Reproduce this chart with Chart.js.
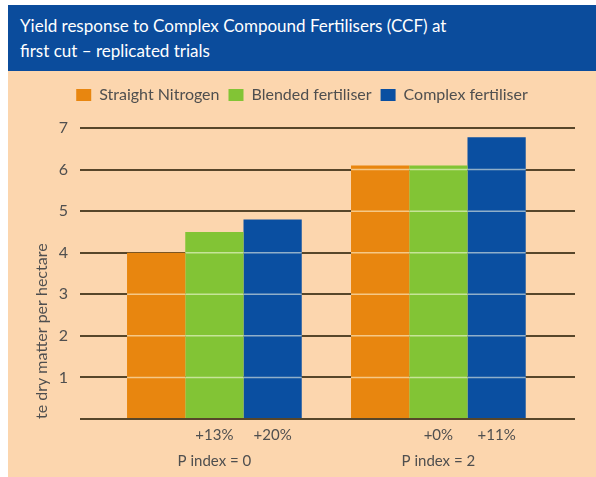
<!DOCTYPE html>
<html>
<head>
<meta charset="utf-8">
<script src="https://cdn.jsdelivr.net/npm/chart.js@4"></script>
<style>
  html, body { margin: 0; padding: 0; background: #fff; }
  #frame { position: absolute; left: 8px; top: 5px; width: 588px; height: 472px; background: #fcd6ae; }
  #title {
    height: 66px; background: #0b4c9c; color: #fff;
    font-family: Lato, sans-serif; font-size: 17px; line-height: 25px;
    padding: 8px 0 0 12px; box-sizing: border-box;
  }
  #wrap { position: relative; width: 588px; height: 406px; }
</style>
</head>
<body>
<div id="frame">
  <div id="title">Yield response to Complex Compound Fertilisers (CCF) at<br>first cut – replicated trials</div>
  <div id="wrap"><canvas id="chart"></canvas></div>
</div>
<script>
const categories = ['P index = 0', 'P index = 2'];
const straightN = [4.0, 6.1];
const blended = [4.5, 6.1];
const complexF = [4.8, 6.78];
const blendedGain = ['+13%', '+0%'];
const complexGain = ['+20%', '+11%'];
const yTicks = [0, 1, 2, 3, 4, 5, 6, 7];

const COLORS = {
  orange: '#e8860f',
  green: '#82c435',
  blue: '#0a4fa1',
  grid: '#57462a',
  text: '#4f4f4f',
};

Chart.defaults.font.family = 'Lato, sans-serif';
Chart.defaults.color = COLORS.text;

// extra room under the legend, and centre it on the whole canvas
const legendGap = {
  id: 'legendGap',
  beforeUpdate(chart) {
    const lg = chart.legend;
    if (!lg || lg._gapPatched) return;
    const fit = lg.fit;
    lg.fit = function () { fit.call(this); this.height += 15; };
    lg._gapPatched = true;
  },
  afterLayout(chart) {
    const lg = chart.legend;
    if (!lg) return;
    lg.right += 21;
    lg.width += 21;
  },
};

// light streaks where gridlines cross the bars, and gain labels under bars
const barDecor = {
  id: 'barDecor',
  afterDatasetsDraw(chart) {
    const { ctx, scales: { y } } = chart;
    ctx.save();
    ctx.strokeStyle = 'rgba(255,255,235,0.55)';
    ctx.lineWidth = 1.5;
    chart.data.datasets.forEach((ds, i) => {
      chart.getDatasetMeta(i).data.forEach((bar) => {
        const left = bar.x - bar.width / 2;
        const right = bar.x + bar.width / 2;
        yTicks.slice(1).forEach((t) => {
          const py = y.getPixelForValue(t);
          if (py > bar.y + 1) {
            ctx.beginPath();
            ctx.moveTo(left, py);
            ctx.lineTo(right, py);
            ctx.stroke();
          }
        });
      });
    });
    ctx.restore();
  },
  afterDraw(chart) {
    const { ctx, chartArea } = chart;
    ctx.save();
    ctx.font = '15px Lato, sans-serif';
    ctx.fillStyle = COLORS.text;
    ctx.textAlign = 'center';
    ctx.textBaseline = 'middle';
    chart.data.datasets.forEach((ds, i) => {
      if (!ds.gains) return;
      chart.getDatasetMeta(i).data.forEach((bar, j) => {
        ctx.fillText(ds.gains[j], bar.x, chartArea.bottom + 16);
      });
    });
    ctx.restore();
  },
};

new Chart(document.getElementById('chart'), {
  type: 'bar',
  data: {
    labels: categories,
    datasets: [
      { label: 'Straight Nitrogen', data: straightN, backgroundColor: COLORS.orange },
      { label: 'Blended fertiliser', data: blended, backgroundColor: COLORS.green, gains: blendedGain },
      { label: 'Complex fertiliser', data: complexF, backgroundColor: COLORS.blue, gains: complexGain },
    ],
  },
  options: {
    responsive: true,
    maintainAspectRatio: false,
    animation: false,
    categoryPercentage: 0.78,
    barPercentage: 1,
    layout: { padding: { top: 7, right: 21, left: 0, bottom: 0 } },
    plugins: {
      legend: {
        position: 'top',
        labels: { boxWidth: 15, boxHeight: 12, padding: 9, font: { size: 16 }, color: COLORS.text },
      },
      tooltip: { enabled: false },
    },
    scales: {
      x: {
        grid: { display: false },
        border: { display: false },
        ticks: { padding: 25, font: { size: 15 }, color: COLORS.text },
        afterBuildTicks: (s) => { s._startValue = -0.6; s._valueRange = 2.21; },
        afterFit: (s) => { s.height = 58; },
      },
      y: {
        min: 0,
        max: 7,
        grid: { color: COLORS.grid, lineWidth: 2, drawTicks: false },
        border: { display: false },
        ticks: {
          stepSize: 1,
          padding: 12,
          font: { size: 16 },
          color: COLORS.text,
          callback: (v) => (v === 0 ? '' : v),
        },
        title: {
          display: true,
          text: 'te dry matter per hectare',
          align: 'start',
          font: { size: 16 },
          color: COLORS.text,
          padding: { top: 24, bottom: 0 },
        },
        afterFit: (s) => { s.width = 72; },
      },
    },
  },
  plugins: [legendGap, barDecor],
});
</script>
</body>
</html>
